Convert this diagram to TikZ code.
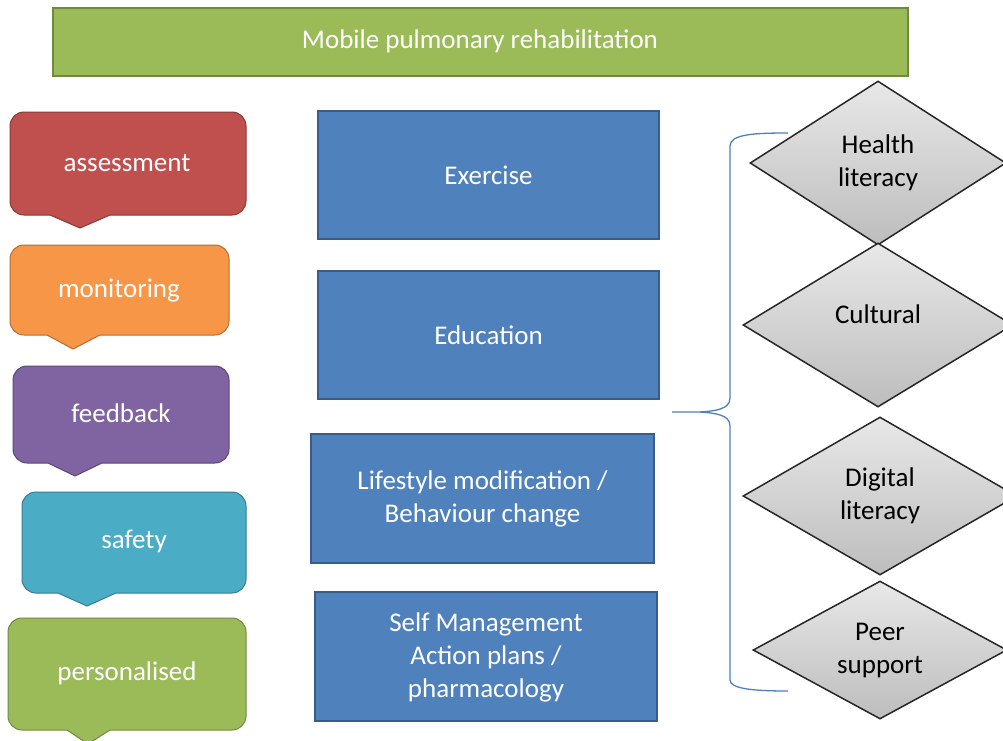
\documentclass[tikz,border=0pt]{standalone}
\usepackage{fontspec}
\setmainfont{Carlito}
\usetikzlibrary{shapes.geometric}
\definecolor{cgreen}{HTML}{9BBB59}
\definecolor{cgreenB}{HTML}{71893F}
\definecolor{cred}{HTML}{C0504D}
\definecolor{credB}{HTML}{8C3836}
\definecolor{corange}{HTML}{F79646}
\definecolor{corangeB}{HTML}{B66D31}
\definecolor{cpurple}{HTML}{8064A2}
\definecolor{cpurpleB}{HTML}{5C4776}
\definecolor{caqua}{HTML}{4BACC6}
\definecolor{caquaB}{HTML}{357D91}
\definecolor{cblue}{HTML}{4F81BD}
\definecolor{cblueB}{HTML}{385D8A}
\definecolor{dtop}{HTML}{E8E8E8}
\definecolor{dbot}{HTML}{BDBDBD}
\tikzset{
  txt/.style={font=\fontsize{27}{33}\selectfont, align=center, inner sep=0pt},
  wtxt/.style={txt, text=white},
  bluebox/.style={draw=cblueB, line width=1.2pt, fill=cblue},
  calloutshape/.style={line width=1pt},
  gdiam/.style={diamond, draw=black!85, line width=1.5pt, top color=dtop, bottom color=dbot, inner sep=0pt, txt},
  bracepath/.style={draw=cblue, line width=1.3pt}
}
% #1 style, #2 x1, #3 yt, #4 x2, #5 yb, #6 bx1, #7 bx2, #8 tx, #9 ty
\newcommand\mycallout[9]{%
  \filldraw[calloutshape,#1] (#8,#9) -- (#6,#5) -- ({#2+14},#5)
    arc[start angle=90, end angle=180, radius=14] -- (#2,{#3+14})
    arc[start angle=180, end angle=270, radius=14] -- ({#4-14},#3)
    arc[start angle=270, end angle=360, radius=14] -- (#4,{#5-14})
    arc[start angle=0, end angle=90, radius=14] -- (#7,#5) -- cycle;}
\begin{document}
\begin{tikzpicture}[x=1pt, y=-1pt]
\useasboundingbox (0,0) rectangle (1003,740);
\clip (0,0) rectangle (1003,740);
\fill[white] (0,0) rectangle (1003,740);

% title
\filldraw[fill=cgreen, draw=cgreenB, line width=1.2pt] (53,8) rectangle (908,76);
\node[wtxt] (title) at (480,41) {Mobile pulmonary rehabilitation};

% callouts
\mycallout{fill=cred, draw=credB}{10}{112}{246}{215}{50}{110}{80}{228}
\node[wtxt] (assess) at (127,163) {assessment};

\mycallout{fill=corange, draw=corangeB}{10}{245}{229}{335}{47}{100}{73}{349}
\node[wtxt] (monit) at (119,291) {monitoring};

\mycallout{fill=cpurple, draw=cpurpleB}{13}{366}{229}{463}{48}{102}{75}{476}
\node[wtxt] (feedb) at (121,413) {feedback};

\mycallout{fill=caqua, draw=caquaB}{22}{492}{246}{593}{58}{116}{87}{606}
\node[wtxt] (safety) at (134,541) {safety};

\mycallout{fill=cgreen, draw=cgreenB}{8}{618}{246}{730}{67}{110}{88}{744}
\node[wtxt] (perso) at (127,673) {personalised};

% blue boxes
\draw[bluebox] (318,111) rectangle (659,239);
\node[wtxt] (exer) at (488.5,175) {Exercise};
\draw[bluebox] (318,271) rectangle (659,399);
\node[wtxt] (edu) at (488.5,335) {Education};
\draw[bluebox] (311,434) rectangle (654,563);
\node[wtxt] (life) at (482.5,499) {Lifestyle modification /\\Behaviour change};
\draw[bluebox] (315,592) rectangle (657,721);
\node[wtxt] (selfm) at (486,657) {Self Management\\Action plans /\\pharmacology};

% diamonds
\node[gdiam, minimum width=256pt, minimum height=164pt, aspect=1.56] (health) at (878,163) {Health\\literacy};
\node[gdiam, minimum width=270pt, minimum height=164pt, aspect=1.65] (cult) at (878,325) {\raisebox{21pt}{Cultural}};
\node[gdiam, minimum width=274pt, minimum height=158pt, aspect=1.73] (digit) at (880,496) {Digital\\literacy};
\node[gdiam, minimum width=254pt, minimum height=138pt, aspect=1.84] (peer) at (880,650) {Peer\\support};

% brace
\coordinate (bt) at (788,133);
\coordinate (bb) at (788,691);
\coordinate (btip) at (672,412);
\draw[bracepath] (bt) .. controls (755,133) and (730,134) .. (730,146) -- (730,398)
  .. controls (730,409) and (716,411) .. (700,412) -- (btip);
\draw[bracepath] (700,412) .. controls (716,413) and (730,415) .. (730,426) -- (730,680)
  .. controls (730,689) and (755,691) .. (bb);
\end{tikzpicture}
\end{document}
